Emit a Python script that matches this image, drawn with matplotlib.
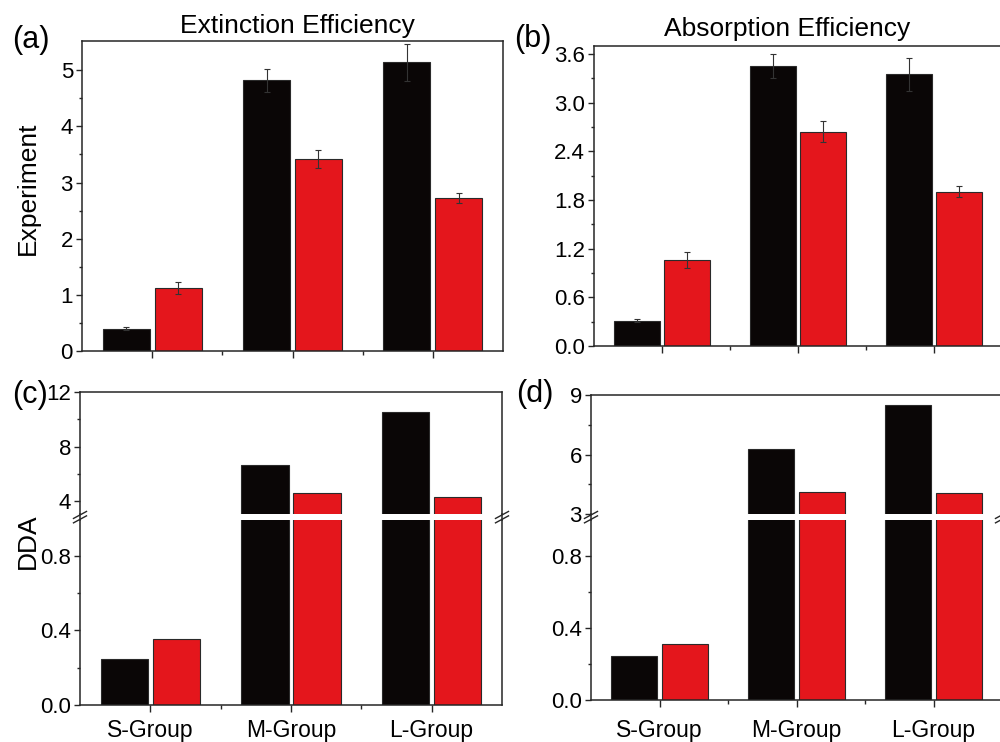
import matplotlib
matplotlib.use('Agg')
import matplotlib.pyplot as plt
import numpy as np
from matplotlib.ticker import FixedLocator, FormatStrFormatter
from matplotlib.lines import Line2D

plt.rcParams['font.family'] = ['Liberation Sans', 'DejaVu Sans']

# ---------------- data ----------------
groups = ['S-Group', 'M-Group', 'L-Group']

ext_exp_black = [0.40, 4.82, 5.14]
ext_exp_black_err = [0.03, 0.21, 0.33]
ext_exp_red = [1.12, 3.42, 2.73]
ext_exp_red_err = [0.11, 0.16, 0.09]

abs_exp_black = [0.31, 3.45, 3.35]
abs_exp_black_err = [0.02, 0.15, 0.20]
abs_exp_red = [1.065, 2.64, 1.905]
abs_exp_red_err = [0.10, 0.13, 0.07]

ext_dda_black = [0.245, 6.65, 10.52]
ext_dda_red = [0.355, 4.54, 4.25]

abs_dda_black = [0.244, 6.30, 8.51]
abs_dda_red = [0.313, 4.11, 4.07]

# ---------------- style ----------------
BLACK = '#0a0606'
RED = '#e4161c'
EDGE = '#2a2a2a'
SPINE = '#262626'
W, H = 1000, 742

fig = plt.figure(figsize=(10, 7.42), dpi=100)


def rect(x0, y0, x1, y1):
    return [x0 / W, 1 - y1 / H, (x1 - x0) / W, (y1 - y0) / H]


xc = np.arange(len(groups)) + 0.5
off = 0.185
bw = 0.335


def style_axes(ax, xtick_pad=3, show_x=True):
    for s in ax.spines.values():
        s.set_color(SPINE)
        s.set_linewidth(1.1)
    ax.set_xlim(0, 3)
    ax.tick_params(axis='y', which='major', direction='out', length=4.5, width=1.0,
                   color=SPINE, labelsize=16, pad=2)
    ax.tick_params(axis='y', which='minor', direction='out', length=2.5, width=1.0, color=SPINE)
    ax.tick_params(axis='x', which='major', direction='out', length=5, width=1.0,
                   color=SPINE, labelsize=16.5, pad=xtick_pad)
    ax.tick_params(axis='x', which='minor', direction='out', length=3, width=1.0, color=SPINE)
    ax.xaxis.set_major_locator(FixedLocator(xc))
    ax.xaxis.set_minor_locator(FixedLocator([1, 2]))
    ax.tick_params(top=False, right=False, which='both')
    if show_x:
        ax.set_xticklabels([])
    else:
        ax.tick_params(axis='x', which='both', bottom=False, labelbottom=False)


def draw_bars(ax, black, red, black_err=None, red_err=None):
    ekw = dict(ecolor='#333333', elinewidth=0.8, capsize=2.5, capthick=0.8)
    ax.bar(xc - off, black, bw, color=BLACK, edgecolor=EDGE, linewidth=0.8,
           yerr=black_err, error_kw=ekw)
    ax.bar(xc + off, red, bw, color=RED, edgecolor=EDGE, linewidth=0.8,
           yerr=red_err, error_kw=ekw)


# ---------------- (a) ----------------
ax_a = fig.add_axes(rect(82, 41, 503, 351))
draw_bars(ax_a, ext_exp_black, ext_exp_red, ext_exp_black_err, ext_exp_red_err)
style_axes(ax_a)
ax_a.set_ylim(0, 5.52)
ax_a.yaxis.set_major_locator(FixedLocator([0, 1, 2, 3, 4, 5]))
ax_a.yaxis.set_minor_locator(FixedLocator([0.5, 1.5, 2.5, 3.5, 4.5]))
ax_a.yaxis.set_major_formatter(FormatStrFormatter('%d'))

# ---------------- (b) ----------------
ax_b = fig.add_axes(rect(594, 46, 1002, 346))
draw_bars(ax_b, abs_exp_black, abs_exp_red, abs_exp_black_err, abs_exp_red_err)
style_axes(ax_b)
ax_b.set_ylim(0, 3.70)
ax_b.yaxis.set_major_locator(FixedLocator([0, 0.6, 1.2, 1.8, 2.4, 3.0, 3.6]))
ax_b.yaxis.set_minor_locator(FixedLocator([0.3, 0.9, 1.5, 2.1, 2.7, 3.3]))
ax_b.yaxis.set_major_formatter(FormatStrFormatter('%.1f'))


def broken_panel(x0, x1, ytop, ybreak_hi, ybreak_lo, ybot, black, red,
                 up_lim, up_major, up_minor, lo_lim, xtick_pad):
    ax_u = fig.add_axes(rect(x0, ytop, x1, ybreak_hi))
    ax_l = fig.add_axes(rect(x0, ybreak_lo, x1, ybot))
    draw_bars(ax_u, black, red)
    draw_bars(ax_l, black, red)
    style_axes(ax_u, show_x=False)
    style_axes(ax_l, xtick_pad=xtick_pad)
    ax_l.set_xticklabels(groups)
    ax_u.spines['bottom'].set_visible(False)
    ax_l.spines['top'].set_visible(False)
    ax_u.set_ylim(*up_lim)
    ax_u.yaxis.set_major_locator(FixedLocator(up_major))
    ax_u.yaxis.set_minor_locator(FixedLocator(up_minor))
    ax_u.yaxis.set_major_formatter(FormatStrFormatter('%g'))
    ax_l.set_ylim(*lo_lim)
    ax_l.yaxis.set_major_locator(FixedLocator([0, 0.4, 0.8]))
    ax_l.yaxis.set_minor_locator(FixedLocator([0.2, 0.6]))
    ax_l.yaxis.set_major_formatter(FormatStrFormatter('%.1f'))
    # continue spines across the gap and draw break marks
    for xs in (x0, x1):
        fig.add_artist(Line2D([xs / W, xs / W], [1 - ybreak_hi / H, 1 - ybreak_lo / H],
                              color=SPINE, lw=1.1, transform=fig.transFigure))
        ym = (ybreak_hi + ybreak_lo) / 2
        for dy in (-2.2, 2.2):
            fig.add_artist(Line2D([(xs - 6.5) / W, (xs + 6.5) / W],
                                  [1 - (ym + dy + 3.5) / H, 1 - (ym + dy - 3.5) / H],
                                  color=SPINE, lw=1.0, transform=fig.transFigure))
    return ax_u, ax_l


# ---------------- (c) ----------------
broken_panel(80, 502, 392.3, 514.3, 520, 705, ext_dda_black, ext_dda_red,
             (3, 12), [4, 8, 12], [6, 10], (0, 0.99), xtick_pad=5.3)

# ---------------- (d) ----------------
broken_panel(591, 1002, 395, 514.3, 520, 700, abs_dda_black, abs_dda_red,
             (3, 9), [3, 6, 9], [4.5, 7.5], (0, 1.0), xtick_pad=8.9)

# ---------------- texts ----------------
def ftext(x, y, s, **kw):
    fig.text(x / W, 1 - y / H, s, **kw)


ftext(297, 33, 'Extinction Efficiency', fontsize=19, ha='center', va='baseline')
ftext(787, 36, 'Absorption Efficiency', fontsize=19, ha='center', va='baseline')
ftext(12, 48, '(a)', fontsize=22, ha='left', va='baseline')
ftext(514, 47, '(b)', fontsize=22, ha='left', va='baseline')
ftext(12, 403, '(c)', fontsize=22, ha='left', va='baseline')
ftext(516, 402, '(d)', fontsize=22, ha='left', va='baseline')
ftext(28, 188, 'Experiment', fontsize=19, ha='center', va='center', rotation=90)
ftext(28, 541, 'DDA', fontsize=19, ha='center', va='center', rotation=90)

fig.savefig('out.png', dpi=100, facecolor='white')
